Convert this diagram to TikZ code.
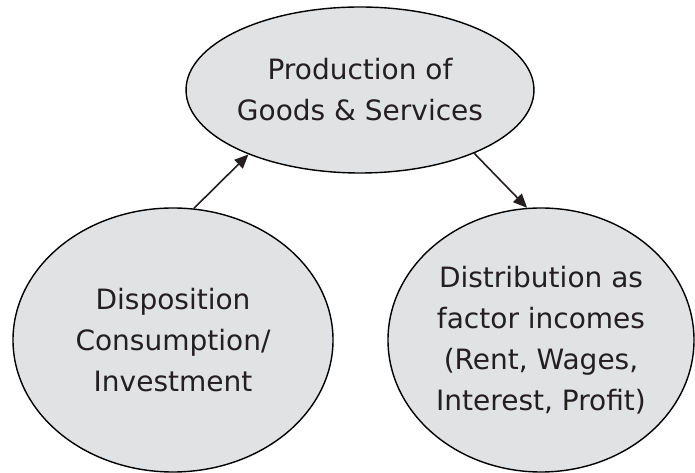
\documentclass[tikz,border=0pt]{standalone}
\usepackage{fontspec}
\setmainfont{DejaVu Sans}
\usetikzlibrary{shapes.geometric, arrows.meta}

\tikzset{
	bubble/.style={ellipse, draw=black, line width=1.4pt, fill=bubblegray, inner sep=0pt, align=center, font=\fontsize{28}{41}\selectfont, text=inkdark},
	flow/.style={-{Triangle[length=14pt, width=12pt]}, line width=1.6pt, inkdark}
}
\definecolor{bubblegray}{HTML}{E1E2E4}
\definecolor{inkdark}{HTML}{231F20}

\begin{document}
\begin{tikzpicture}[x=1pt, y=1pt]
	\useasboundingbox (0,0) rectangle (695,473);
	
	\node[bubble, minimum width=320pt, minimum height=166pt] (prod) at (360,383) {Production of\\Goods \& Services};
	\node[bubble, minimum width=320pt, minimum height=264pt] (disp) at (173,133) {Disposition\\Consumption/\\Investment};
	\node[bubble, minimum width=306pt, minimum height=264pt] (dist) at (541,133) {Distribution as\\factor incomes\\(Rent, Wages,\\Interest, Profit)};
	
	\draw[flow] (disp.81) -- (prod.-150);
	\draw[flow] (prod.-29) -- (dist.96);
\end{tikzpicture}
\end{document}
